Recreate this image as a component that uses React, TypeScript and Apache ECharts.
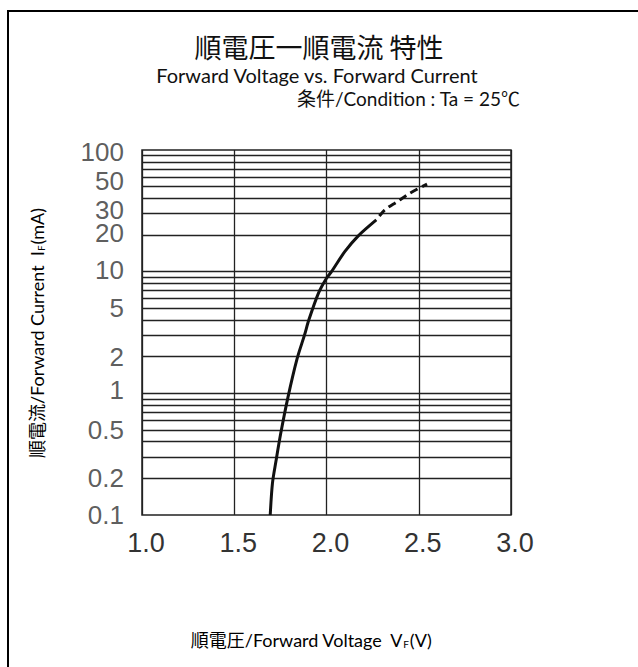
import React, { useEffect, useRef } from "react";
import * as echarts from "echarts";

// ---- data ----
const xMin = 1.0;
const xMax = 3.0;
const xStep = 0.5;
const yMin = 0.1;
const yMax = 100;
const yLabelValues = [0.1, 0.2, 0.5, 1, 2, 5, 10, 20, 30, 50, 100];
const yGridValues = [
  0.2, 0.3, 0.4, 0.5, 0.6, 0.7, 0.8, 0.9, 1,
  2, 3, 4, 5, 6, 7, 8, 9, 10,
  20, 30, 40, 50, 60, 70, 80, 90,
];
// solid part of the Vf-If curve
const solidV = [1.695, 1.707, 1.726, 1.752, 1.791, 1.84, 1.881, 1.904, 1.956, 2.0, 2.027, 2.099, 2.171, 2.27];
const solidI = [0.1, 0.182, 0.276, 0.469, 0.927, 1.91, 3.02, 4.0, 6.64, 8.82, 10, 14.6, 19.6, 26.6];
// dashed (extrapolated) part
const dashV = [2.27, 2.315, 2.383, 2.45, 2.545];
const dashI = [26.6, 32.1, 37.6, 44.0, 52.5];

const titleText = "順電圧一順電流 特性";
const subtitleText = "Forward Voltage vs. Forward Current";
const conditionText = "条件/Condition : Ta = 25℃";

// small vertical nudges of some y labels (style only, px)
const yLabelNudge: Record<string, number> = { "100": 2, "50": -6, "30": -4, "20": -2, "10": -2, "1": -3 };

const tickFont = "Liberation Sans, Arial, sans-serif";
const latinFont = "Lato, 'Noto Sans CJK JP', sans-serif";
const cjkFont = "'Noto Sans CJK JP', sans-serif";

export default function App() {
  const ref = useRef<HTMLDivElement>(null);
  useEffect(() => {
    if (!ref.current) return;
    const chart = echarts.init(ref.current, undefined, { renderer: "svg" });
    const lineColor = "#222";
    const richName = {
      a: { fontSize: 18, fontFamily: latinFont, color: "#111", lineHeight: 22, verticalAlign: "bottom" },
      s: { fontSize: 10, fontFamily: latinFont, color: "#111", lineHeight: 22, verticalAlign: "bottom", padding: [0, 1, 0, 0] },
    };
    chart.setOption({
      animation: false,
      backgroundColor: "#fff",
      grid: {
        left: 142,
        top: 150,
        right: 127,
        bottom: 152,
        show: true,
        borderColor: lineColor,
        borderWidth: 1.5,
        backgroundColor: "transparent",
      },
      xAxis: {
        type: "value",
        min: xMin,
        max: xMax,
        interval: xStep,
        axisLine: { show: false },
        axisTick: { show: false },
        splitLine: { show: true, lineStyle: { color: lineColor, width: 1.3 } },
        axisLabel: {
          formatter: (v: number) => v.toFixed(1),
          fontSize: 27,
          fontFamily: tickFont,
          color: "#333",
          margin: 14,
          padding: [0, 0, 0, 8],
        },
      },
      yAxis: {
        type: "log",
        logBase: 10,
        min: yMin,
        max: yMax,
        axisLine: { show: false },
        axisTick: { show: false },
        axisLabel: { show: false },
        splitLine: { show: false },
      },
      series: [
        {
          type: "scatter",
          clip: false,
          silent: true,
          symbolSize: 2,
          itemStyle: { color: "rgba(0,0,0,0)" },
          data: yLabelValues.map((v) => ({
            value: [xMin, v],
            label: { offset: [0, yLabelNudge[String(v)] || 0] },
          })),
          label: {
            show: true,
            position: "left",
            distance: 17,
            formatter: (p: any) => String(p.value[1]),
            fontSize: 26,
            fontFamily: tickFont,
            color: "#333",
          },
          markLine: {
            silent: true,
            z: 1,
            symbol: ["none", "none"],
            label: { show: false },
            lineStyle: { type: "solid", color: lineColor, width: 1.3 },
            data: yGridValues.map((v) => ({ yAxis: v })),
          },
        },
        {
          type: "line",
          showSymbol: false,
          smooth: 0.3,
          z: 5,
          lineStyle: { color: "#111", width: 3 },
          data: solidV.map((v, i) => [v, solidI[i]]),
        },
        {
          type: "line",
          showSymbol: false,
          smooth: 0.3,
          z: 5,
          lineStyle: { color: "#111", width: 3, type: [8, 5], dashOffset: 8 },
          data: dashV.map((v, i) => [v, dashI[i]]),
        },
      ],
      graphic: [
        {
          type: "rect",
          silent: true,
          shape: { x: 8, y: 11, width: 700, height: 700 },
          style: { fill: "none", stroke: "#000", lineWidth: 2 },
        },
        {
          type: "text",
          x: 319,
          y: 46,
          style: {
            text: titleText,
            font: `27px ${cjkFont}`,
            fill: "#111",
            align: "center",
            verticalAlign: "middle",
          },
        },
        {
          type: "text",
          x: 317,
          y: 75,
          style: {
            text: subtitleText,
            font: `20px ${latinFont}`,
            fill: "#111",
            align: "center",
            verticalAlign: "middle",
          },
        },
        {
          type: "text",
          x: 297,
          y: 98,
          style: {
            text: conditionText,
            font: `19px ${latinFont}`,
            fill: "#111",
            align: "left",
            verticalAlign: "middle",
          },
        },
        {
          type: "text",
          x: 311,
          y: 638,
          style: {
            text: "{a|順電圧/Forward Voltage  V}{s|F}{a|(V)}",
            align: "center",
            verticalAlign: "middle",
            rich: richName,
          },
        },
        {
          type: "text",
          x: 35,
          y: 333,
          rotation: Math.PI / 2,
          style: {
            text: "{a|順電流/Forward Current  I}{s|F}{a|(mA)}",
            align: "center",
            verticalAlign: "middle",
            rich: richName,
          },
        },
      ],
    });
    return () => chart.dispose();
  }, []);
  return (
    <div
      ref={ref}
      style={{ position: "absolute", left: 0, top: 0, width: 638, height: 667 }}
    />
  );
}
